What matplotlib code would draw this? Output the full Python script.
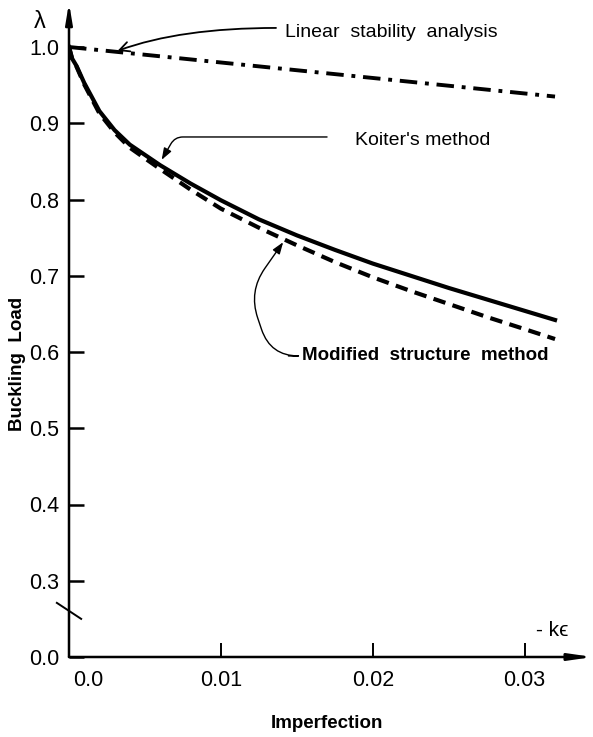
import matplotlib.pyplot as plt

plt.rcParams['font.family'] = ['Liberation Sans', 'DejaVu Sans']

# curves (imperfection -k*eps, buckling load lambda)
imperf_linear = [0.0, 0.032]
load_linear = [1.0, 0.935]

imperf_koiter = [0.0, 0.0002, 0.0005, 0.001, 0.002, 0.003, 0.004, 0.006, 0.008,
                 0.010, 0.0125, 0.015, 0.0175, 0.020, 0.0225, 0.025, 0.0275, 0.030, 0.032]
load_koiter = [1.0, 0.985, 0.975, 0.953, 0.916, 0.891, 0.872, 0.845, 0.821,
               0.799, 0.774, 0.753, 0.734, 0.716, 0.700, 0.684, 0.669, 0.654, 0.642]

imperf_modified = [0.0, 0.0002, 0.0005, 0.001, 0.002, 0.003, 0.004, 0.006, 0.008,
                   0.010, 0.0125, 0.015, 0.0175, 0.020, 0.0225, 0.025, 0.0275, 0.030, 0.032]
load_modified = [1.0, 0.985, 0.974, 0.951, 0.913, 0.888, 0.868, 0.840, 0.813,
                 0.788, 0.763, 0.740, 0.718, 0.698, 0.680, 0.663, 0.646, 0.630, 0.617]

y_ticks = [0.0, 0.3, 0.4, 0.5, 0.6, 0.7, 0.8, 0.9, 1.0]
x_ticks = [0.01, 0.02, 0.03]


# axis is broken between 0.0 and 0.3 -> 0.0 sits one step under 0.3
def ypos(v):
    return v + 0.2 if v < 0.3 else v


fig = plt.figure(figsize=(5.93, 7.37), dpi=100)
ax = fig.add_axes([69 / 593, 80 / 737, 524 / 593, 655.75 / 737])
ax.set_xlim(0, 0.0345)
ax.set_ylim(0.2, 1.06)
for s in ax.spines.values():
    s.set_visible(False)

# curves
ax.plot(imperf_linear, load_linear, color='black', lw=2.8,
        dashes=(4.5, 2.0, 1, 2.0), dash_capstyle='butt')
ax.plot(imperf_koiter, load_koiter, color='black', lw=3.0)
ax.plot(imperf_modified, load_modified, color='black', lw=3.0,
        dashes=(3, 1.8), dash_capstyle='butt')

# axes with arrows
ax.annotate('', xy=(0, 1.058), xytext=(0, 0.2),
            arrowprops=dict(arrowstyle='-|>,head_width=0.2,head_length=1.2',
                            lw=1.8, color='black', shrinkA=0, shrinkB=0),
            annotation_clip=False)
ax.annotate('', xy=(0.0345, 0.2), xytext=(0, 0.2),
            arrowprops=dict(arrowstyle='-|>,head_width=0.2,head_length=1.4',
                            lw=1.8, color='black', shrinkA=0, shrinkB=0),
            annotation_clip=False)
# break mark
ax.plot([-0.0008, 0.0008], [0.271, 0.25], color='black', lw=1.4, clip_on=False)

ax.set_yticks([ypos(v) for v in y_ticks])
ax.set_yticklabels(['%.1f' % v for v in y_ticks])
ax.tick_params(axis='y', direction='in', length=11, width=1.8, pad=7, labelsize=15.5)
ax.set_xticks(x_ticks)
ax.set_xticklabels(['0.01', '0.02', '0.03'])
ax.tick_params(axis='x', direction='in', length=10, width=1.4, pad=9, labelsize=15.5)
ax.annotate('0.0', xy=(0.0013, 0.2), xytext=(0, -9), textcoords='offset points',
            ha='center', va='top', fontsize=15.5)

# labels
ax.text(-0.0019, 1.033, 'λ', fontsize=17, ha='center', va='center')
ax.text(0.0318, 0.235, '- kϵ', fontsize=15, ha='center', va='center')
fig.text(18 / 593, 1 - 364 / 737, 'Buckling  Load', rotation=90,
         ha='center', va='center', fontsize=13.5, fontweight='bold')
fig.text(327 / 593, 1 - 723 / 737, 'Imperfection', ha='center', va='center',
         fontsize=13.5, fontweight='bold')

# curve labels with leader arrows
ax.text(0.01422, 1.0184, 'Linear  stability  analysis', fontsize=14, va='center')
ax.annotate('', xy=(0.0032, 0.995), xytext=(0.01363, 1.025),
            arrowprops=dict(arrowstyle='->,head_width=0.35,head_length=0.7', lw=1.3,
                            color='black', shrinkA=0, shrinkB=0,
                            connectionstyle='angle3,angleA=180,angleB=20'))

ax.text(0.01883, 0.878, "Koiter's method", fontsize=14, va='center')
ax.annotate('', xy=(0.0061, 0.852), xytext=(0.01699, 0.882),
            arrowprops=dict(arrowstyle='-|>,head_width=0.25,head_length=0.7', lw=1.0,
                            color='black', shrinkA=0, shrinkB=0,
                            connectionstyle='angle,angleA=180,angleB=60,rad=8'))

ax.text(0.01535, 0.5948, 'Modified  structure  method', fontsize=13.5, va='center',
        fontweight='bold')
ax.annotate('', xy=(0.0141, 0.744), xytext=(0.01445, 0.5948),
            arrowprops=dict(arrowstyle='-|>,head_width=0.25,head_length=0.7', lw=1.0,
                            color='black', shrinkA=0, shrinkB=0,
                            connectionstyle='arc,angleA=180,angleB=-125,armA=18,armB=60,rad=28'))

fig.savefig('out.png', dpi=100)
